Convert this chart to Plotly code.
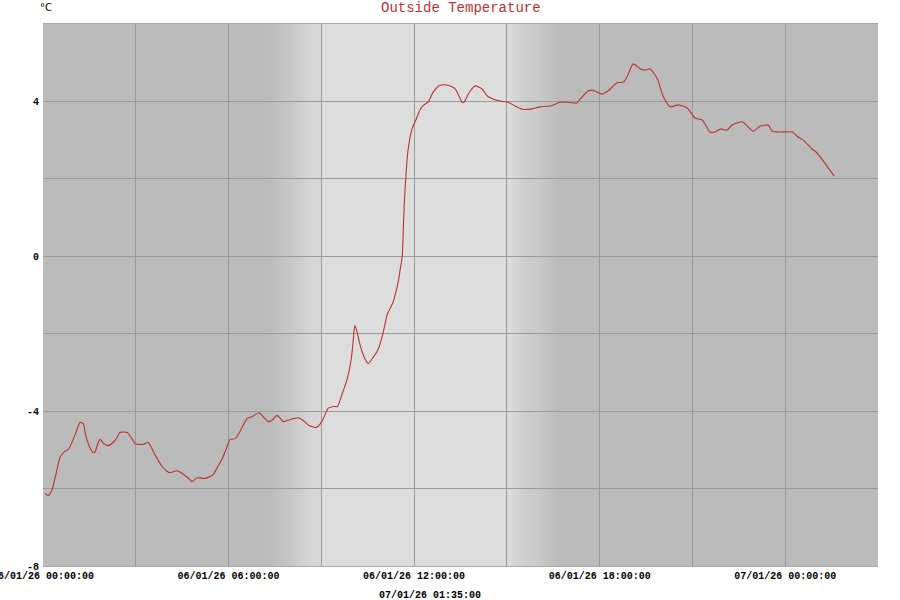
import datetime as dt
import plotly.graph_objects as go

# ---- data ----
base_time = "2026-01-06 00:00:00"
minutes = [4, 10, 17, 25, 33, 41, 49, 56, 64, 72, 78, 83, 91, 97, 101, 107, 111, 118, 126, 136,
           144, 149, 163, 171, 179, 194, 204, 217, 231, 239, 246, 260, 268, 276, 285, 289, 299, 314,
           324, 330, 340, 347, 355, 363, 373, 382, 396, 406, 419, 427, 437, 444, 454, 466, 479, 495,
           505, 516, 530, 541, 553, 563, 571, 580, 590, 598, 602, 605, 609, 615, 619, 625, 631, 638,
           650, 660, 668, 679, 689, 693, 697, 699, 701, 703, 708, 716, 724, 732, 739, 747, 757, 770,
           786, 800, 807, 813, 817, 825, 838, 852, 862, 873, 887, 902, 916, 930, 945, 965, 984, 1003,
           1017, 1036, 1042, 1058, 1067, 1085, 1096, 1114, 1126, 1133, 1145, 1159, 1168, 1178, 1192,
           1203, 1217, 1232, 1250, 1265, 1279, 1294, 1304, 1314, 1327, 1337, 1353, 1358, 1378, 1391,
           1407, 1415, 1430, 1454, 1463, 1475, 1492, 1498, 1514, 1535]
temps = [-6.13, -6.18, -6.05, -5.64, -5.20, -5.05, -4.99, -4.81, -4.55, -4.29, -4.32, -4.63, -4.94,
         -5.07, -5.05, -4.81, -4.73, -4.84, -4.89, -4.81, -4.68, -4.55, -4.55, -4.68, -4.84, -4.86,
         -4.81, -5.12, -5.43, -5.54, -5.59, -5.54, -5.59, -5.67, -5.77, -5.82, -5.72, -5.74, -5.69,
         -5.64, -5.41, -5.25, -4.99, -4.73, -4.71, -4.53, -4.19, -4.14, -4.04, -4.14, -4.27, -4.24,
         -4.11, -4.27, -4.22, -4.17, -4.24, -4.37, -4.42, -4.27, -3.93, -3.88, -3.88, -3.57, -3.18,
         -2.66, -2.15, -1.79, -1.94, -2.28, -2.46, -2.66, -2.77, -2.66, -2.41, -1.97, -1.50, -1.19,
         -0.67, -0.34, 0.00, 0.70, 1.35, 1.86, 2.72, 3.29, 3.54, 3.80, 3.91, 3.98, 4.24, 4.42, 4.42,
         4.32, 4.14, 3.98, 3.98, 4.19, 4.40, 4.32, 4.14, 4.06, 4.01, 3.98, 3.88, 3.80, 3.80, 3.86,
         3.88, 3.98, 3.98, 3.96, 4.06, 4.27, 4.29, 4.19, 4.27, 4.48, 4.50, 4.63, 4.97, 4.84, 4.81,
         4.84, 4.58, 4.14, 3.86, 3.91, 3.83, 3.57, 3.52, 3.21, 3.21, 3.29, 3.26, 3.39, 3.47, 3.47,
         3.23, 3.36, 3.39, 3.23, 3.21, 3.21, 3.10, 3.00, 2.77, 2.72, 2.46, 2.07]

x_range = ["2026-01-06 00:00:00", "2026-01-07 03:00:00"]
y_range = [-8, 6]
y_tickvals = [-8, -6, -4, -2, 0, 2, 4]
y_ticktext = ["-8", "", "-4", "", "0", "", "4"]
x_tickvals = ["2026-01-06 00:00:00", "2026-01-06 03:00:00", "2026-01-06 06:00:00",
              "2026-01-06 09:00:00", "2026-01-06 12:00:00", "2026-01-06 15:00:00",
              "2026-01-06 18:00:00", "2026-01-06 21:00:00", "2026-01-07 00:00:00"]
x_ticktext = ["06/01/26 00:00:00", "", "06/01/26 06:00:00", "", "06/01/26 12:00:00", "",
              "06/01/26 18:00:00", "", "07/01/26 00:00:00"]
title_text = "Outside Temperature"
unit_text = "°C"
footer_text = "07/01/26 01:35:00"

# daylight: (dawn start, full day start, full day end, dusk end) in minutes
dawn_start, day_start, day_end, dusk_end = 440, 540, 900, 1005
night_color = (187, 187, 187)
day_color = (221, 221, 221)

t0 = dt.datetime.strptime(base_time, "%Y-%m-%d %H:%M:%S")
times = [t0 + dt.timedelta(minutes=m) for m in minutes]


def mix(f):
    c = [round(night_color[i] + (day_color[i] - night_color[i]) * f) for i in range(3)]
    return "rgb(%d,%d,%d)" % tuple(c)


shapes = []
shapes.append(dict(type="rect", xref="x", yref="paper", layer="below", line_width=0,
                   x0=t0 + dt.timedelta(minutes=day_start), x1=t0 + dt.timedelta(minutes=day_end),
                   y0=0, y1=1, fillcolor=mix(1)))
step = 2
m = dawn_start
while m < day_start:
    f = (m - dawn_start + step / 2) / (day_start - dawn_start)
    shapes.append(dict(type="rect", xref="x", yref="paper", layer="below", line_width=0,
                       x0=t0 + dt.timedelta(minutes=m), x1=t0 + dt.timedelta(minutes=min(m + step + 0.5, day_start)),
                       y0=0, y1=1, fillcolor=mix(f)))
    m += step
m = day_end
while m < dusk_end:
    f = 1 - (m - day_end + step / 2) / (dusk_end - day_end)
    shapes.append(dict(type="rect", xref="x", yref="paper", layer="below", line_width=0,
                       x0=t0 + dt.timedelta(minutes=m), x1=t0 + dt.timedelta(minutes=min(m + step + 0.5, dusk_end)),
                       y0=0, y1=1, fillcolor=mix(f)))
    m += step

fig = go.Figure()
fig.add_trace(go.Scatter(x=times, y=temps, mode="lines",
                         line=dict(color="#b83232", width=1.1, shape="spline", smoothing=0.6),
                         hoverinfo="skip", showlegend=False))

mono = "Liberation Mono"
fig.update_layout(
    width=900, height=600,
    margin=dict(l=43, r=22, t=24, b=34, pad=0, autoexpand=False),
    paper_bgcolor="white",
    plot_bgcolor="rgb(187,187,187)",
    shapes=shapes,
    showlegend=False,
    annotations=[
        dict(text=title_text, xref="paper", x=0.5, yref="paper", y=1.0, yanchor="middle", yshift=16,
             showarrow=False, font=dict(family=mono, size=14, color="#c03030")),
        dict(text=unit_text, xref="paper", x=-0.006, yref="paper", y=1.0, yanchor="middle", yshift=17,
             showarrow=False, font=dict(family="DejaVu Sans", size=10, color="black")),
        dict(text=footer_text, xref="paper", x=0.463, yref="paper", y=0.0, yanchor="middle", yshift=-29,
             showarrow=False, font=dict(family=mono, size=10, color="black", weight="bold")),
    ],
)

fig.update_xaxes(type="date", range=x_range, tickvals=x_tickvals, ticktext=x_ticktext,
                 showgrid=True, gridcolor="#9a9a9a", gridwidth=1, zeroline=False,
                 showline=True, linecolor="#a8a8a8", linewidth=1, mirror=True,
                 ticks="", ticklabeloverflow="allow", automargin=False,
                 tickfont=dict(family=mono, size=10, color="black", weight="bold"))
fig.update_yaxes(range=y_range, tickvals=y_tickvals, ticktext=y_ticktext,
                 showgrid=True, gridcolor="#9a9a9a", gridwidth=1, zeroline=False,
                 showline=False, ticks="", ticklabelstandoff=3, automargin=False,
                 tickfont=dict(family=mono, size=10, color="black", weight="bold"))

fig.write_html("out.html", config={"displayModeBar": False},
               post_script="document.body.style.margin='0';document.body.style.overflow='hidden';")
